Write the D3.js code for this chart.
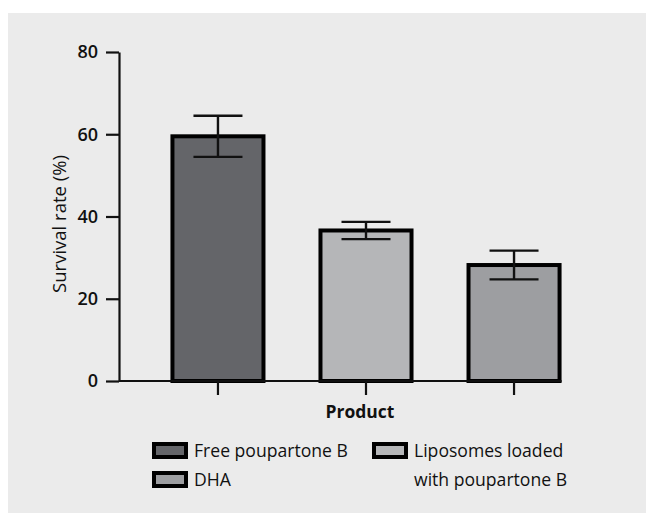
<!DOCTYPE html>
<html>
<head>
<meta charset="utf-8">
<script src="https://cdn.jsdelivr.net/npm/d3@7/dist/d3.min.js"></script>
<style>
  html, body { margin: 0; padding: 0; background: #ffffff; }
  svg { display: block; }
  text { font-family: "Open Sans", "Noto Sans", sans-serif; fill: #111; }
</style>
</head>
<body>
<svg id="chart" width="646" height="513"></svg>
<script>
// ---- data ----
const categories = ["Free poupartone B", "Liposomes loaded with poupartone B", "DHA"];
const survival = [59.5, 36.6, 28.2];
const errors = [5.0, 2.1, 3.5];
const yTicks = [0, 20, 40, 60, 80];
const colors = ["#646569", "#b5b6b8", "#9d9ea1"];
const legendLines = [["Free poupartone B"], ["Liposomes loaded", "with poupartone B"], ["DHA"]];

const svg = d3.select("#chart");
svg.append("rect").attr("x", 8).attr("y", 13).attr("width", 638).attr("height", 500).attr("fill", "#ebebeb");

const x0 = 119, y0 = 381, yTop = 52;
const y = d3.scaleLinear().domain([0, 80]).range([y0, yTop]);
const x = d3.scaleBand().domain(categories).range([x0, 613]).paddingInner(0.385).paddingOuter(0.361);

// y axis
const yAxis = svg.append("g").attr("transform", `translate(${x0},0)`)
  .call(d3.axisLeft(y).tickValues(yTicks).tickSize(13).tickPadding(8).tickSizeOuter(0));
yAxis.select(".domain").attr("stroke", "#111").attr("stroke-width", 2.2);
yAxis.selectAll(".tick line").attr("stroke", "#111").attr("stroke-width", 2.2);
yAxis.selectAll(".tick text").attr("font-size", 18).attr("font-weight", 600).attr("fill", "#111")
  .style("font-family", '"Open Sans", sans-serif');

// bars
const sw = 4;
svg.append("g").selectAll("rect").data(categories).join("rect")
  .attr("x", d => x(d))
  .attr("width", x.bandwidth())
  .attr("y", (d, i) => y(survival[i]))
  .attr("height", (d, i) => y(0) - y(survival[i]))
  .attr("fill", (d, i) => colors[i])
  .attr("stroke", "#000").attr("stroke-width", sw);

// x axis
const last = categories[categories.length - 1];
const xAxis = svg.append("g").attr("transform", `translate(0,${y0})`)
  .call(d3.axisBottom(x).tickSize(14).tickFormat("").tickSizeOuter(0));
xAxis.select(".domain").attr("d", `M${x0},0H${x(last) + x.bandwidth() + sw / 2}`)
  .attr("stroke", "#111").attr("stroke-width", 2.2);
xAxis.selectAll(".tick line").attr("stroke", "#111").attr("stroke-width", 2.2);

// error bars
const capW = 49;
const eb = svg.append("g").attr("stroke", "#111").attr("stroke-width", 2.4);
categories.forEach((c, i) => {
  const cx = x(c) + x.bandwidth() / 2;
  const hi = y(survival[i] + errors[i]), lo = y(survival[i] - errors[i]);
  eb.append("line").attr("x1", cx).attr("x2", cx).attr("y1", hi).attr("y2", lo);
  eb.append("line").attr("x1", cx - capW / 2).attr("x2", cx + capW / 2).attr("y1", hi).attr("y2", hi);
  eb.append("line").attr("x1", cx - capW / 2).attr("x2", cx + capW / 2).attr("y1", lo).attr("y2", lo);
});

// axis titles
svg.append("text").attr("transform", "translate(66,224) rotate(-90)")
  .attr("text-anchor", "middle").attr("font-size", 18.5).attr("font-weight", 500)
  .text("Survival rate (%)");
svg.append("text").attr("x", 360).attr("y", 418).attr("text-anchor", "middle")
  .attr("font-size", 17.5).attr("font-weight", 700).text("Product");

// legend
const legendPos = [[152, 442], [372, 442], [152, 471]];
const lg = svg.append("g");
categories.forEach((c, i) => {
  const [lx, ly] = legendPos[i];
  lg.append("rect").attr("x", lx + 2).attr("y", ly + 2).attr("width", 32).attr("height", 13)
    .attr("fill", colors[i]).attr("stroke", "#000").attr("stroke-width", 4);
  const t = lg.append("text").attr("x", lx + 42).attr("y", ly + 15).attr("font-size", 17.6);
  legendLines[i].forEach((ln, j) => {
    t.append("tspan").attr("x", lx + 42).attr("dy", j === 0 ? 0 : 29).text(ln);
  });
});
</script>
</body>
</html>
